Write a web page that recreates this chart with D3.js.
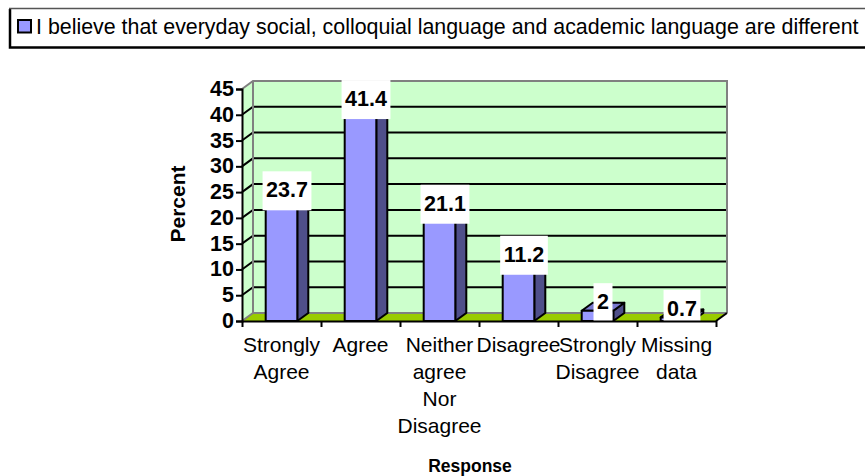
<!DOCTYPE html>
<html><head><meta charset="utf-8">
<script src="https://cdnjs.cloudflare.com/ajax/libs/d3/7.8.5/d3.min.js"></script>
<style>html,body{margin:0;padding:0;background:#fff}svg{display:block}text{font-family:"Liberation Sans",Arial,sans-serif;fill:#000}</style>
</head><body><svg id="c" width="865" height="476"></svg>
<script>
const categories = [["Strongly","Agree"],["Agree"],["Neither","agree","Nor","Disagree"],["Disagree"],["Strongly","Disagree"],["Missing","data"]];
const values = [23.7,41.4,21.1,11.2,2,0.7];
const yTicks = [0,5,10,15,20,25,30,35,40,45];
const seriesName = "I believe that everyday social, colloquial language and academic language are different";
const xTitle = "Response", yTitle = "Percent";

const svg = d3.select("#c");
const dx = 11, dy = -8;
const y = d3.scaleLinear().domain([0,45]).range([321,89]);
const x = d3.scaleBand().domain(d3.range(values.length)).range([242,716]).paddingInner(0.6).paddingOuter(0.3);
const poly = pts => pts.map(p=>p.join(",")).join(" ");
const x0=x.range()[0], x1=x.range()[1], yb=y(0), yt=y(45);

svg.append("polygon").attr("points",poly([[x0+dx,yt+dy],[x1+dx,yt+dy],[x1+dx,yb+dy],[x0+dx,yb+dy]])).attr("fill","#ccffcc");
svg.append("polygon").attr("points",poly([[x0,yt],[x0+dx,yt+dy],[x0+dx,yb+dy],[x0,yb]])).attr("fill","#ccffcc");
svg.append("polygon").attr("points",poly([[x0,yb],[x0+dx,yb+dy],[x1+dx,yb+dy],[x1,yb]])).attr("fill","#99cc00");
yTicks.filter(t=>t>0&&t<45).forEach(t=>{
  svg.append("path").attr("d",`M${x0},${y(t)}L${x0+dx},${y(t)+dy}L${x1+dx},${y(t)+dy}`).attr("fill","none").attr("stroke","#000").attr("stroke-width",2);
});
svg.append("path").attr("d",`M${x0},${yt}L${x0+dx},${yt+dy}L${x1+dx},${yt+dy}L${x1+dx},${yb+dy}`).attr("fill","none").attr("stroke","#808080").attr("stroke-width",2);
svg.append("path").attr("d",`M${x0},${yb}L${x0+dx},${yb+dy}L${x1+dx},${yb+dy}M${x0+dx},${yt+dy}L${x0+dx},${yb+dy}`).attr("fill","none").attr("stroke","#808080").attr("stroke-width",2);
svg.append("path").attr("d",`M${x1+dx},${yb+dy}L${x1},${yb}`).attr("fill","none").attr("stroke","#000").attr("stroke-width",2);

values.forEach((v,i)=>{
  const l=x(i), r=l+x.bandwidth(), t=y(v);
  const g=svg.append("g").attr("stroke","#000").attr("stroke-width",2).attr("stroke-linejoin","round");
  g.append("polygon").attr("points",poly([[r,yb],[r+dx,yb+dy],[r+dx,t+dy],[r,t]])).attr("fill","#4f4f8a");
  g.append("polygon").attr("points",poly([[l,t],[l+dx,t+dy],[r+dx,t+dy],[r,t]])).attr("fill","#7a7ad0");
  g.append("rect").attr("x",l).attr("y",t).attr("width",r-l).attr("height",yb-t).attr("fill","#9999ff");
});
values.forEach((v,i)=>{
  const cx=x(i)+x.bandwidth()/2+dx/2, cy=y(v)+dy;
  const tx=svg.append("text").attr("x",cx).attr("y",cy+6.5).attr("text-anchor","middle")
    .attr("font-weight","bold").attr("font-size",21.5).text(v);
  const w=tx.node().getComputedTextLength()+7;
  svg.append("rect").attr("x",cx-w/2).attr("y",cy-19.5).attr("width",w).attr("height",39).attr("fill","#fff");
  tx.raise();
});
const yAxis=d3.axisLeft(y).tickValues(yTicks).tickSize(6).tickPadding(2).tickFormat(d3.format("d"));
const ga=svg.append("g").attr("transform",`translate(${x0},0)`).call(yAxis);
ga.attr("font-family",null).attr("font-size",null);
ga.select(".domain").attr("stroke","#000").attr("stroke-width",2);
ga.selectAll(".tick line").attr("stroke","#000").attr("stroke-width",2);
ga.selectAll("text").attr("font-size",21.5).attr("font-weight","bold").attr("dy","0.3em");
const xEdge=d3.scaleLinear().domain([0,values.length]).range([x0,x1]);
const gx=svg.append("g").attr("transform",`translate(0,${yb})`).call(d3.axisBottom(xEdge).tickValues(d3.range(values.length+1)).tickSize(6).tickSizeOuter(0).tickFormat(""));
gx.select(".domain").attr("stroke","#000").attr("stroke-width",2);
gx.selectAll(".tick line").attr("stroke","#000").attr("stroke-width",2);
categories.forEach((lines,i)=>{
  const t=svg.append("text").attr("text-anchor","middle").attr("font-size",21);
  lines.forEach((s,j)=>t.append("tspan").attr("x",x(i)+x.bandwidth()/2).attr("y",352+j*27).text(s));
});
svg.append("text").attr("x",470).attr("y",471.5).attr("text-anchor","middle").attr("font-weight","bold").attr("font-size",17.5).text(xTitle);
svg.append("text").attr("transform","translate(185,204) rotate(-90)").attr("text-anchor","middle").attr("font-weight","bold").attr("font-size",21).text(yTitle);
svg.append("path").attr("d","M866,47.5H10V9").attr("fill","none").attr("stroke","#000").attr("stroke-width",2.5);
svg.append("path").attr("d","M9,8.5H866").attr("fill","none").attr("stroke","#555").attr("stroke-width",1.5);
svg.append("rect").attr("x",18).attr("y",20).attr("width",13).attr("height",12.5).attr("fill","#9999ff").attr("stroke","#000").attr("stroke-width",2);
svg.append("text").attr("x",36).attr("y",33.5).attr("font-size",21.4).text(seriesName);
</script></body></html>
